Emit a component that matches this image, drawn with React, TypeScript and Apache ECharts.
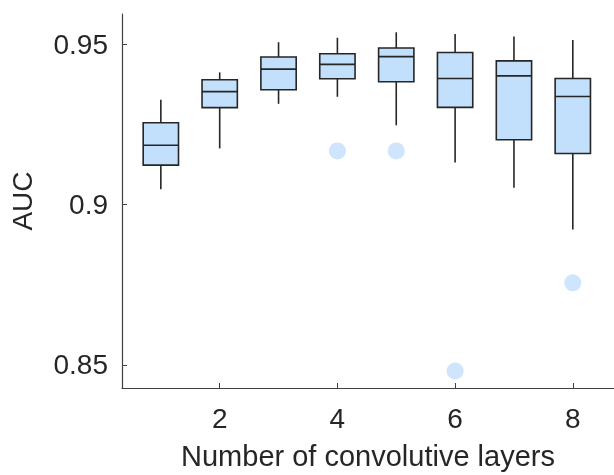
import React, { useEffect, useRef } from "react";
import * as echarts from "echarts";

const layers = [1, 2, 3, 4, 5, 6, 7, 8];
const whiskerLow = [0.9048, 0.9175, 0.9314, 0.9336, 0.9247, 0.9131, 0.9052, 0.8922];
const q1 = [0.9123, 0.9302, 0.9358, 0.9392, 0.9383, 0.9303, 0.9202, 0.9159];
const median = [0.9185, 0.9352, 0.9422, 0.9437, 0.9461, 0.9393, 0.9401, 0.9337];
const q3 = [0.9255, 0.9389, 0.946, 0.947, 0.9488, 0.9474, 0.9448, 0.9393];
const whiskerHigh = [0.9327, 0.9412, 0.9506, 0.952, 0.9537, 0.9532, 0.9524, 0.9513];
const outlierX = [4, 5, 6, 8];
const outlierY = [0.9167, 0.9167, 0.8481, 0.8756];
const xTicks = [2, 4, 6, 8];
const yTicks = [0.85, 0.9, 0.95];

const FONT = "Liberation Sans";
const TEXT = "#262626";
const AXIS = "#404040";
const FILL = "#c2dffc";
const EDGE = "#262626";

export default function App() {
  const ref = useRef<HTMLDivElement>(null);
  useEffect(() => {
    if (!ref.current) return;
    const chart = echarts.init(ref.current, null, { renderer: "svg" });
    const boxData = layers.map((x, i) => [x, whiskerLow[i], q1[i], median[i], q3[i], whiskerHigh[i]]);
    const outData = outlierX.map((x, i) => [x, outlierY[i]]);
    chart.setOption({
      animation: false,
      grid: { left: 122, right: 0, top: 14, bottom: 85, containLabel: false },
      xAxis: {
        type: "value",
        min: 0.34,
        max: 8.7,
        name: "Number of convolutive layers",
        nameLocation: "middle",
        nameGap: 53,
        nameTextStyle: { fontFamily: FONT, fontSize: 29, color: TEXT },
        axisLine: { show: true, onZero: false, lineStyle: { color: AXIS, width: 1.2 } },
        axisTick: { show: true, inside: true, length: 5, customValues: xTicks, lineStyle: { color: AXIS } },
        axisLabel: { customValues: xTicks, margin: 16, fontFamily: FONT, fontSize: 28, color: TEXT },
        splitLine: { show: false },
      },
      yAxis: {
        type: "value",
        min: 0.8428,
        max: 0.9594,
        name: "AUC",
        nameLocation: "middle",
        nameGap: 86,
        nameTextStyle: { fontFamily: FONT, fontSize: 28, color: TEXT },
        axisLine: { show: true, onZero: false, lineStyle: { color: AXIS, width: 1.2 } },
        axisTick: { show: true, inside: true, length: 5, customValues: yTicks, lineStyle: { color: AXIS } },
        axisLabel: {
          customValues: yTicks,
          margin: 14,
          fontFamily: FONT,
          fontSize: 28,
          color: TEXT,
          formatter: (v: number) => String(Math.round(v * 100) / 100),
        },
        splitLine: { show: false },
      },
      series: [
        {
          type: "custom",
          data: boxData,
          encode: { x: 0, y: [1, 2, 3, 4, 5] },
          renderItem: (params: any, api: any) => {
            const x = api.value(0);
            const pLo = api.coord([x, api.value(1)]);
            const pQ1 = api.coord([x, api.value(2)]);
            const pMed = api.coord([x, api.value(3)]);
            const pQ3 = api.coord([x, api.value(4)]);
            const pHi = api.coord([x, api.value(5)]);
            const half = api.size([0.6, 0])[0] / 2;
            const ls = { stroke: EDGE, lineWidth: 1.6 };
            return {
              type: "group",
              children: [
                { type: "line", shape: { x1: pHi[0], y1: pHi[1], x2: pQ3[0], y2: pQ3[1] }, style: ls },
                { type: "line", shape: { x1: pQ1[0], y1: pQ1[1], x2: pLo[0], y2: pLo[1] }, style: ls },
                {
                  type: "rect",
                  shape: { x: pQ3[0] - half, y: pQ3[1], width: half * 2, height: pQ1[1] - pQ3[1] },
                  style: { fill: FILL, stroke: EDGE, lineWidth: 1.6 },
                },
                { type: "line", shape: { x1: pMed[0] - half, y1: pMed[1], x2: pMed[0] + half, y2: pMed[1] }, style: ls },
              ],
            };
          },
        },
        {
          type: "scatter",
          data: outData,
          symbol: "circle",
          symbolSize: 17,
          itemStyle: { color: FILL },
        },
      ],
    });
    return () => chart.dispose();
  }, []);
  return <div ref={ref} style={{ position: "fixed", left: 0, top: 0, width: 614, height: 475 }} />;
}
